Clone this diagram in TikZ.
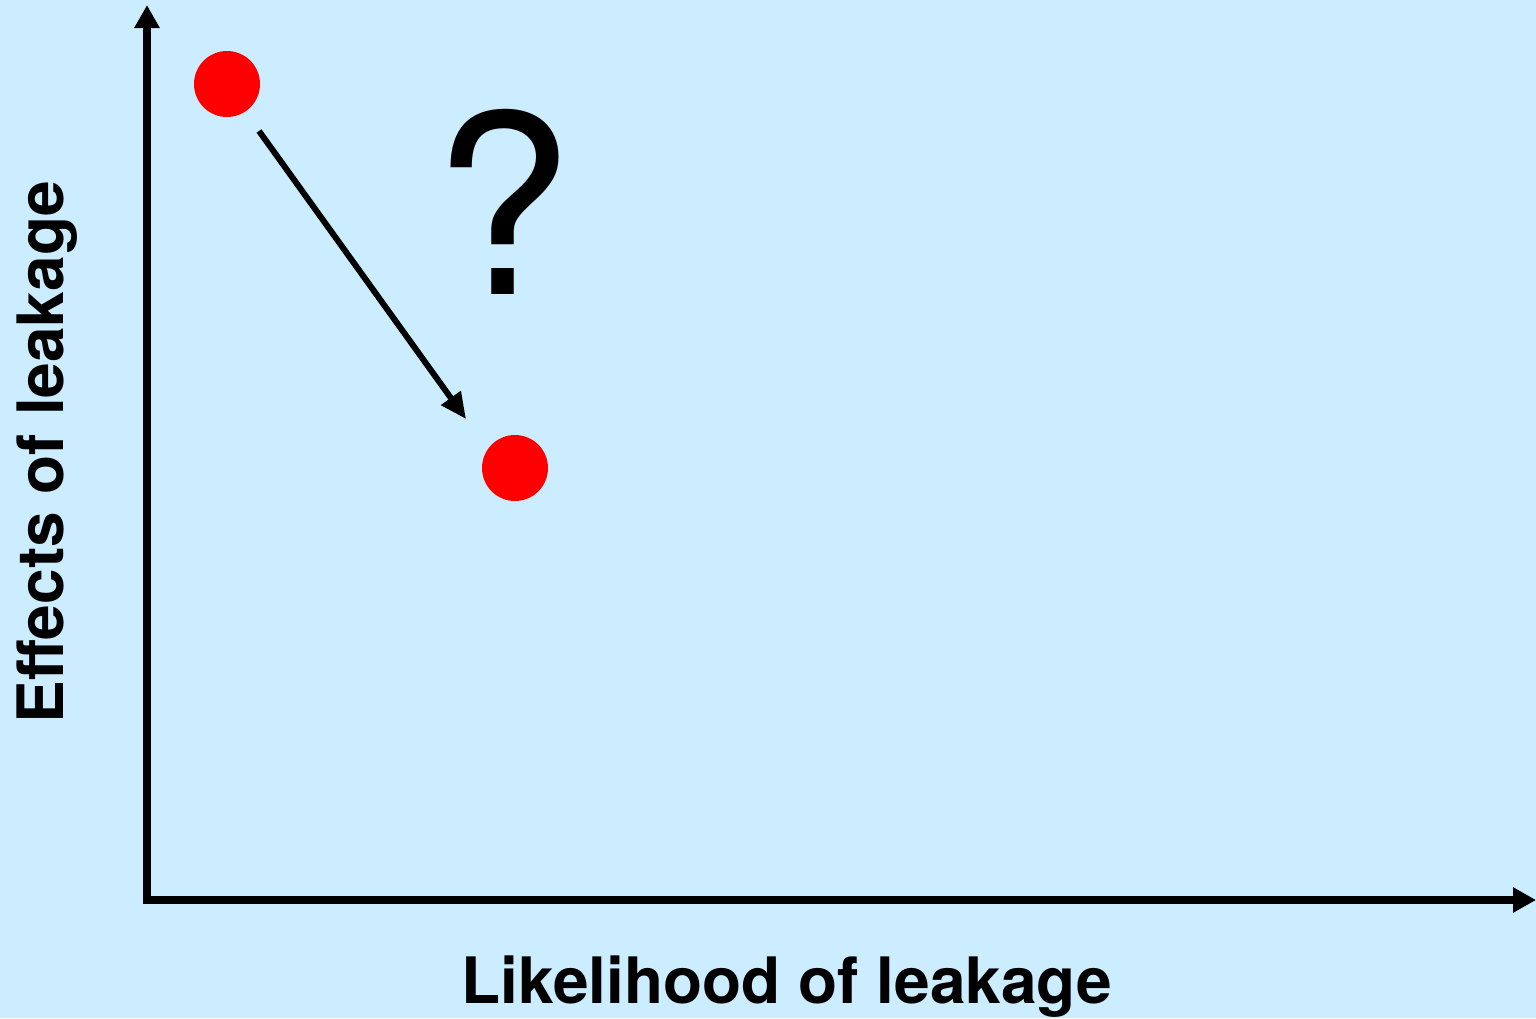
\documentclass[tikz,border=0pt]{standalone}
\usepackage{fontspec}
\setmainfont{TeX Gyre Heros}
\usetikzlibrary{arrows.meta}
\definecolor{skyback}{RGB}{204,236,255}
\begin{document}
\begin{tikzpicture}[x=1pt, y=-1pt]
        \tikzset{
            axis/.style={-{Triangle[length=23pt, width=24pt]}, draw=black, line width=8pt},
            moveline/.style={-{Triangle[length=26pt, width=23pt]}, draw=black, line width=6pt},
            dot/.style={circle, fill=red, minimum size=66pt, inner sep=0pt},
            axislabel/.style={font=\bfseries\fontsize{64}{64}\selectfont, inner sep=0pt}
        }

        \fill[skyback] (0,0) rectangle (1536,1018);
        \useasboundingbox (0,0) rectangle (1536,1018);

        \coordinate (origin) at (147,900);
        \coordinate (ytop) at (147,5);
        \coordinate (xend) at (1536,900);
        \draw[axis] ([yshift=-3.5pt]origin) -- (ytop);
        \draw[axis] ([xshift=-3.5pt]origin) -- (xend);

        \node[dot] (before) at (227,84) {};
        \node[dot] (after) at (515,468) {};

        \coordinate (from) at (259,131);
        \coordinate (to) at (466,419);
        \draw[moveline] (from) -- (to);

        \node[anchor=base, inner sep=0pt, font=\fontsize{250}{250}\selectfont] (ask) at (503,294) {?};

        \node[axislabel, anchor=base] (xlabel) at (787,1003) {Likelihood of leakage};
        \node[axislabel, anchor=base, rotate=90] (ylabel) at (63,452) {Effects of leakage};
    \end{tikzpicture}
\end{document}
